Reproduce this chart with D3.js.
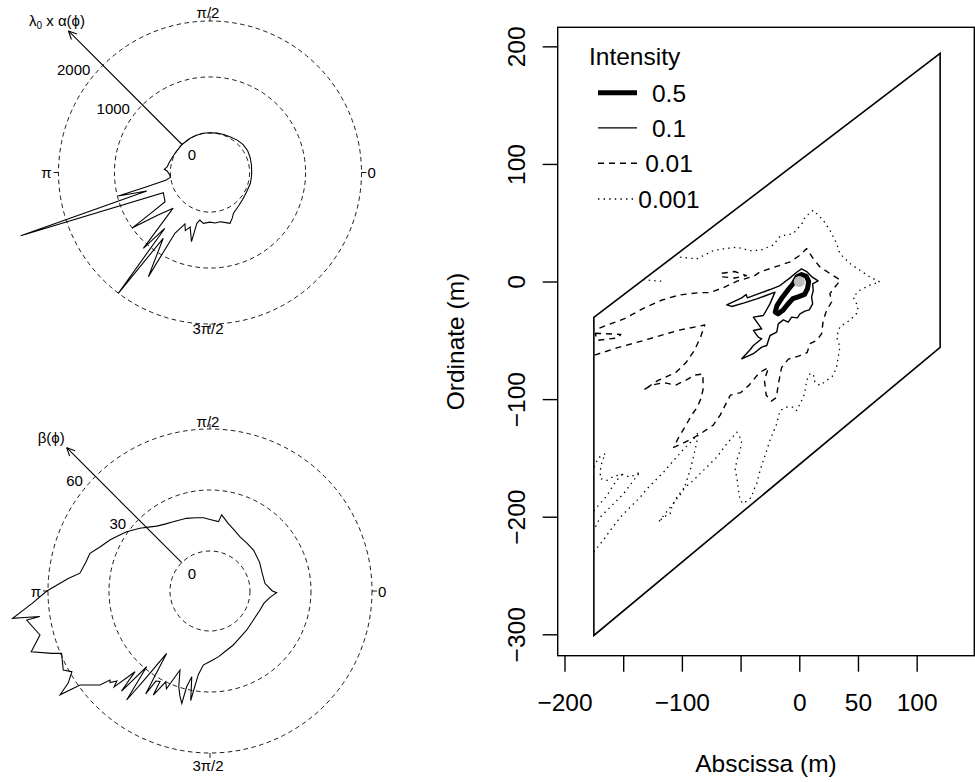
<!DOCTYPE html>
<html>
<head>
<meta charset="utf-8">
<script src="https://cdn.jsdelivr.net/npm/d3@7"></script>
<style>
  body { margin: 0; background: #fff; }
  text { font-family: "Liberation Sans", Arial, Helvetica, sans-serif; fill: #000; }
</style>
</head>
<body>
<script>
// ---- polar panels: angle in degrees (counter-clockwise from east), value ----
var alphaAngle = [0,10,20,30,40,50,60,70,80,90,100,110,120,135,150,160,168,172,176,178,183,187,190,192.6,194.4,196.3,198.5,203.4,208,213,214.5,215.5,219,224,228.7,231,232.8,234.6,239.4,240,244,247,250,255,255.5,258,262.5,270,276,281.5,286,291.5,296,300,310,320,332,345,355];
var alphaValue = [37,45,58,70,66,48,25,14,6,2,4,2,0,0,5,22,50,60,110,60,15,5,96,452,985,470,2860,202,220,250,565,1004,522,209,1097,579,2003,735,1455,547,315,420,330,571,230,160,209,180,200,190,220,268,200,132,80,50,32,40,37];
var alphaRings = [0, 1000, 2000];
var alphaAxisMax = 2870;

var betaAngle = [0,8,20,30,43,52,61,68,75,81.3,83,90,95,101,108,118,124,129.4,134,138.2,144.6,149,153,158,162.6,167,172.2,175,180,184,187.9,188.5,189,194.5,198.8,201.5,202.8,208.3,210.3,213,214.7,215.9,220.5,221.7,222.5,224,225,227.1,228.5,229,230.1,232.6,233.5,235.2,237,238,239,241.1,241.4,244,246,249.2,252,254,255.9,256.3,258,260,262,264.8,270,277.6,284,293,300,313,326,338,347,354,358.5];
var betaValue = [11,7.6,7.5,8.5,9.7,10,10.8,12.5,14.8,18.2,14.7,15.5,16.5,17,17.9,18.9,20,21.6,24,26.6,30.6,33,35.6,38.5,42.2,43,44.9,50.3,60.6,68,78.3,65,71.6,66.7,73.2,64,59.5,62.3,59,63.5,70,59.2,51.5,46.2,47,44,47,34.5,46,40,28.9,47.8,35,17.7,30,40,32,31.2,38.6,30,33,21.9,30,34,37.3,28.8,23.4,35,22,16.9,15,12.9,11,9.3,8,6.7,6,6.5,7.5,10,13.1];
var betaRings = [0, 30, 60];
var betaAxisMax = 80;

var dirAngles = [0, 90, 180, 270];
var dirLabels = ["0", "\u03C0/2", "\u03C0", "3\u03C0/2"];

// ---- contour map ----
var xTicks = [-200, -150, -100, -50, 0, 50, 100];
var xTickLabels = ["\u2212200", "", "\u2212100", "", "0", "50", "100"];
var yTicks = [200, 100, 0, -100, -200, -300];
var xLimits = [-205.8, 149.1];
var yLimits = [-318.2, 216.2];

var windowX = [-175, 120, 120, -175];
var windowY = [-30.5, 194, -56, -301];

var levelNames = ["0.5", "0.1", "0.01", "0.001"];
var sourcePoint = [0, 0];

var contour05 = [[-2,4],[2,6],[6,4.5],[8,0],[7,-6],[4.5,-11],[-1,-13],[-5.5,-14.5],[-10,-19.5],[-14,-24.5],[-18,-27.5],[-20.5,-26],[-19,-20.5],[-14.5,-13.5],[-9.5,-7],[-5,-1.5]];

var contour01 = [[2,10.8],[6.3,8.5],[10.5,4.2],[16,0.5],[11.4,-2],[11.9,-7.6],[10.5,-13.3],[11.4,-19],[8.5,-24.1],[4.8,-25.2],[0.6,-27.5],[-1.7,-30.9],[-6.5,-30.3],[-9.4,-34.6],[-13.6,-32.6],[-17.9,-36],[-19.2,-43.1],[-24.9,-45.9],[-27.7,-54.4],[-32,-55.8],[-39.1,-61.4],[-49,-65.7],[-41.9,-58],[-39.1,-54.4],[-32,-48.7],[-34.9,-47.3],[-39.1,-41.6],[-32,-40.2],[-39.1,-30.3],[-30.6,-28.9],[-25,-19],[-20.7,-9],[-30,-12.5],[-36.2,-14.7],[-47.6,-18.4],[-57.5,-21.2],[-61.8,-19.8],[-49,-13.9],[-45.3,-11],[-44.2,-13.9],[-36.2,-11],[-24.9,-6.8],[-16.4,-3.4],[-7.9,3.1],[-2.2,7.9]];

var contour001Main = [[-174.4,-62.6],[-154.7,-56.2],[-131.4,-49.8],[-102.3,-41.3],[-80.5,-37],[-84,-47],[-89.2,-58.3],[-96.5,-68.9],[-105.2,-77.4],[-119.8,-83.8],[-132.8,-92.3],[-125.6,-88.1],[-115.4,-86],[-105.2,-88.1],[-96.5,-83.8],[-89.2,-79.6],[-82,-78.7],[-82,-92],[-84,-100],[-87,-107],[-92,-114],[-97,-123],[-103,-133],[-107,-141],[-100,-138],[-92,-134],[-82,-128],[-73.3,-122.1],[-67.4,-113.6],[-63.1,-105.1],[-58.7,-96.6],[-50,-94.5],[-42.7,-88.1],[-34,-77.4],[-26.2,-73.2],[-29.7,-83.8],[-28.2,-96.6],[-23.8,-101.7],[-19.5,-98.7],[-18,-88.1],[-15.1,-73.2],[-9.3,-66],[-0.6,-63.4],[6.7,-60.4],[9.1,-52.9],[14.8,-50],[19,-44.4],[20.4,-33],[23.3,-24.5],[27.5,-17.4],[26.1,-10.3],[30.4,-4.6],[35,1.1],[26.1,6.8],[17.6,12.4],[11.9,19.5],[6.3,28],[0.6,22.4],[-7.9,16.7],[-16.4,13.8],[-24.9,11],[-33.4,8.2],[-38.4,4.7],[-52.9,0.4],[-64.5,-5.1],[-76.2,-9.4],[-84.9,-9.4],[-102.3,-11.5],[-116.9,-15.7],[-131.4,-22.1],[-148.8,-31.5],[-163.4,-37],[-174.4,-41.3]];
var contour001IslandA = [[-66,7],[-55,8.5],[-45,5],[-55,3],[-66,4],[-66,7]];
var contour001IslandB = [[-174,-44],[-152,-45],[-155,-48],[-172,-50],[-174,-44]];

var contour0001Main = [[-175.1,-230],[-167,-220],[-161,-211.6],[-152.3,-200.2],[-146.7,-194.5],[-141,-188.9],[-135.4,-183.3],[-129.7,-176.2],[-122.6,-169.1],[-115.6,-162.1],[-107,-152.1],[-98,-142],[-90,-134],[-85.9,-128.1],[-87.3,-136.6],[-90.2,-149.4],[-93,-160.6],[-95.8,-169.1],[-98.7,-177.6],[-102.9,-183.3],[-110,-192],[-119.9,-204.6],[-115.7,-200.3],[-110,-197.5],[-108.6,-191.8],[-104.3,-183.3],[-98.7,-176.2],[-90.2,-169.1],[-81.7,-160.6],[-76,-155],[-70.3,-149.4],[-61.8,-138],[-53.2,-128.1],[-49,-135.1],[-50.4,-143.6],[-53.2,-152.1],[-54.7,-160.6],[-53.2,-166.3],[-51.8,-177.6],[-50.4,-186.1],[-47.6,-188.9],[-40.5,-183.3],[-39.1,-177.6],[-36.2,-171.9],[-33.4,-160.6],[-30.6,-152.1],[-27.7,-143.6],[-25,-135.1],[-22.1,-128.1],[-19.2,-121],[-17.9,-115.3],[-16.4,-109.7],[-10.7,-106.8],[-5.1,-106.8],[-2.2,-109.7],[0.6,-104],[3.4,-98.4],[4.8,-94.1],[6.3,-84.1],[9.1,-78.5],[11.9,-78.5],[13.3,-85.6],[17.6,-88.4],[23.3,-84.1],[29,-79.9],[31.8,-72.6],[33.2,-64.1],[34.6,-55.6],[31.8,-47.1],[34.6,-38.6],[43.1,-32.9],[48.8,-27.2],[50.2,-21.6],[45.9,-13.1],[51.6,-7.4],[60.1,-3.1],[68.6,-0.3],[60.1,3.9],[51.6,9.6],[43.1,15.3],[34.6,23.8],[31.8,32.3],[26.1,43.6],[20.4,52.1],[11.9,60.6],[5,55],[3.4,50.7],[-5.1,40.8],[-16.4,38.5],[-22.1,31],[-33.4,26.6],[-41.9,26.3],[-53.2,29.2],[-64.6,27.8],[-73.1,26.3],[-87.3,19.3],[-101.5,20.7],[-104,23.5]];
var contour0001Top = [[-133,1.7],[-125,0.8],[-117,0.3]];
var contour0001LeftA = [[-175,-157.8],[-171,-149.8],[-165.3,-146.4],[-168.1,-153.6],[-169.5,-160.6],[-169.5,-167.7],[-163.8,-169.1],[-158.2,-165.7],[-151.1,-164],[-144,-166.3],[-135.5,-162.1],[-141.2,-169.1],[-149.7,-180.4],[-161,-191.8],[-169.5,-200.3],[-175,-211.6]];
var contour0001LeftB = [[-151.1,-164],[-156.6,-170.5],[-163.8,-181.9],[-172.3,-191.8],[-175,-195]];

var svg = d3.select("body").append("svg")
  .attr("width", 975)
  .attr("height", 782);

// ---------------- polar panels ----------------
function polarPanel(opt) {
  var g = svg.append("g")
    .attr("transform", "translate(" + opt.cx + "," + opt.cy + ")");

  var r = d3.scaleLinear()
    .domain([0, opt.rings[opt.rings.length - 1]])
    .range(opt.rRange);
  var R = r(opt.rings[opt.rings.length - 1]);
  var rad = function(deg) { return deg * Math.PI / 180; };

  g.selectAll("circle.ring")
    .data(opt.rings)
    .enter().append("circle")
    .attr("class", "ring")
    .attr("r", function(d) { return r(d); })
    .style("fill", "none")
    .style("stroke", "#000")
    .style("stroke-width", 0.9)
    .style("stroke-dasharray", "4.5,3.5");

  // direction ticks
  g.selectAll("line.dir")
    .data(dirAngles)
    .enter().append("line")
    .attr("x1", function(d) { return R * Math.cos(rad(d)); })
    .attr("y1", function(d) { return -R * Math.sin(rad(d)); })
    .attr("x2", function(d) { return (R + 5) * Math.cos(rad(d)); })
    .attr("y2", function(d) { return -(R + 5) * Math.sin(rad(d)); })
    .style("stroke", "#000")
    .style("stroke-width", 0.9);

  // direction labels
  var lab = g.selectAll("text.dir")
    .data(dirAngles)
    .enter().append("text")
    .style("font-size", "15px")
    .text(function(d, i) { return dirLabels[i]; });
  lab.each(function(d) {
    var t = d3.select(this);
    if (d === 0) t.attr("x", R + 6).attr("y", 5.5).attr("text-anchor", "start");
    if (d === 90) t.attr("x", -2).attr("y", -R + opt.topShift).attr("text-anchor", "middle");
    if (d === 180) t.attr("x", -R - 7).attr("y", 5.5).attr("text-anchor", "end");
    if (d === 270) t.attr("x", -2).attr("y", R + opt.bottomShift).attr("text-anchor", "middle");
  });

  // data curve
  var pts = opt.angle.map(function(a, i) { return [a, opt.value[i]]; });
  var radial = d3.lineRadial()
    .angle(function(d) { return Math.PI / 2 - rad(d[0]); })
    .radius(function(d) { return r(d[1]); })
    .curve(d3.curveLinearClosed);
  g.append("path")
    .attr("d", radial(pts))
    .style("fill", "none")
    .style("stroke", "#000")
    .style("stroke-width", 1.1)
    .style("stroke-linejoin", "miter");

  // radial axis arrow at 3pi/4
  var ax = Math.cos(rad(135)), ay = -Math.sin(rad(135));
  var r0 = r(0), r1 = r(opt.axisMax);
  g.append("line")
    .attr("x1", r0 * ax).attr("y1", r0 * ay)
    .attr("x2", r1 * ax).attr("y2", r1 * ay)
    .style("stroke", "#000")
    .style("stroke-width", 1.1);
  var tipX = r1 * ax, tipY = r1 * ay;
  var back = Math.atan2(-ay, -ax);
  [-0.45, 0.45].forEach(function(off) {
    g.append("line")
      .attr("x1", tipX).attr("y1", tipY)
      .attr("x2", tipX + 9 * Math.cos(back + off))
      .attr("y2", tipY + 9 * Math.sin(back + off))
      .style("stroke", "#000")
      .style("stroke-width", 1.1);
  });

  // ring values along the arrow
  g.selectAll("text.rv")
    .data(opt.rings)
    .enter().append("text")
    .style("font-size", "15px")
    .attr("text-anchor", function(d) { return d === 0 ? "middle" : "end"; })
    .attr("x", function(d) { return d === 0 ? -18 : r(d) * ax - 12.5; })
    .attr("y", function(d) { return d === 0 ? -12.2 : r(d) * ay + 9.5; })
    .text(function(d) { return d; });

  // axis title
  var tt = g.append("text")
    .style("font-size", "15px")
    .attr("text-anchor", "middle")
    .attr("x", tipX + opt.titleDx)
    .attr("y", tipY - 5);
  opt.title(tt);
}

polarPanel({
  cx: 210, cy: 172.5, rRange: [39.6, 151.5], rings: alphaRings,
  angle: alphaAngle, value: alphaValue, axisMax: alphaAxisMax,
  topShift: -3, bottomShift: 10, titleDx: -11.5,
  title: function(t) {
    t.append("tspan").text("\u03BB");
    t.append("tspan").attr("dy", 3).style("font-size", "10px").text("0");
    t.append("tspan").attr("dy", -3).text(" x \u03B1(\u03D5)");
  }
});

polarPanel({
  cx: 210, cy: 591, rRange: [40, 162], rings: betaRings,
  angle: betaAngle, value: betaValue, axisMax: betaAxisMax,
  topShift: -2.5, bottomShift: 18, titleDx: -15.5,
  title: function(t) { t.text("\u03B2(\u03D5)"); }
});

// ---------------- contour map ----------------
var x = d3.scaleLinear().domain(xLimits).range([557.7, 974.3]);
var y = d3.scaleLinear().domain(yLimits).range([655.7, 27.3]);

var map = svg.append("g");

map.append("rect")
  .attr("x", x(xLimits[0])).attr("y", y(yLimits[1]))
  .attr("width", x(xLimits[1]) - x(xLimits[0]))
  .attr("height", y(yLimits[0]) - y(yLimits[1]))
  .style("fill", "none")
  .style("stroke", "#000")
  .style("stroke-width", 1.4);

var xAxis = map.append("g")
  .attr("transform", "translate(0," + y(yLimits[0]) + ")")
  .call(d3.axisBottom(x).tickValues(xTicks).tickSize(16).tickSizeOuter(0).tickPadding(22)
    .tickFormat(function(d, i) { return xTickLabels[i]; }));
xAxis.select(".domain").remove();
xAxis.selectAll("line").style("stroke", "#000").style("stroke-width", 1.4);
xAxis.selectAll("text").style("font-size", "24.5px").style("font-family", null);

var yAxis = map.append("g")
  .attr("transform", "translate(" + x(xLimits[0]) + ",0)")
  .call(d3.axisLeft(y).tickValues(yTicks).tickSize(15).tickSizeOuter(0)
    .tickFormat(function(d) { return String(d).replace("-", "\u2212"); }));
yAxis.select(".domain").remove();
yAxis.selectAll("line").style("stroke", "#000").style("stroke-width", 1.4);
yAxis.selectAll("text")
  .attr("transform", "rotate(-90)")
  .attr("x", 0).attr("y", -33).attr("dy", null)
  .attr("text-anchor", "middle")
  .style("font-size", "24.5px").style("font-family", null);

map.append("text")
  .attr("x", (x(xLimits[0]) + x(xLimits[1])) / 2)
  .attr("y", 771.5)
  .attr("text-anchor", "middle")
  .style("font-size", "24.5px")
  .text("Abscissa (m)");

map.append("text")
  .attr("transform", "translate(463.5," + (y(yLimits[0]) + y(yLimits[1])) / 2 + ") rotate(-90)")
  .attr("text-anchor", "middle")
  .style("font-size", "24.5px")
  .text("Ordinate (m)");

var line = d3.line().x(function(d) { return x(d[0]); }).y(function(d) { return y(d[1]); });
var closedLine = d3.line().x(function(d) { return x(d[0]); }).y(function(d) { return y(d[1]); })
  .curve(d3.curveLinearClosed);

// observation window
map.append("path")
  .attr("d", closedLine(windowX.map(function(v, i) { return [v, windowY[i]]; })))
  .style("fill", "none")
  .style("stroke", "#000")
  .style("stroke-width", 1.6);

var levelWidth = [5, 1.4, 1.4, 1.3];
var levelDash = [null, null, "6,5", "1.4,4.2"];

function drawContour(pts, lvl, closed) {
  map.append("path")
    .attr("d", (closed ? closedLine : line)(pts))
    .style("fill", "none")
    .style("stroke", "#000")
    .style("stroke-width", levelWidth[lvl])
    .style("stroke-linejoin", "round")
    .style("stroke-dasharray", levelDash[lvl]);
}

drawContour(contour0001Main, 3, false);
drawContour(contour0001Top, 3, false);
drawContour(contour0001LeftA, 3, false);
drawContour(contour0001LeftB, 3, false);
drawContour(contour001Main, 2, false);
drawContour(contour001IslandA, 2, false);
drawContour(contour001IslandB, 2, false);
drawContour(contour01, 1, true);
drawContour(contour05, 0, true);

map.append("circle")
  .attr("cx", x(sourcePoint[0])).attr("cy", y(sourcePoint[1]))
  .attr("r", 5.5)
  .style("fill", "#bebebe");

// legend
var legend = map.append("g");
legend.append("text")
  .attr("x", 589).attr("y", 64.5)
  .style("font-size", "24.5px")
  .text("Intensity");
var rowY = [92.7, 127.9, 163.3, 199];
levelNames.forEach(function(name, i) {
  legend.append("line")
    .attr("x1", 598).attr("x2", 637)
    .attr("y1", rowY[i]).attr("y2", rowY[i])
    .style("stroke", "#000")
    .style("stroke-width", levelWidth[i])
    .style("stroke-dasharray", levelDash[i]);
  legend.append("text")
    .attr("x", 669).attr("y", rowY[i] + 8.8)
    .attr("text-anchor", "middle")
    .style("font-size", "24.5px")
    .text(name);
});
</script>
</body>
</html>
